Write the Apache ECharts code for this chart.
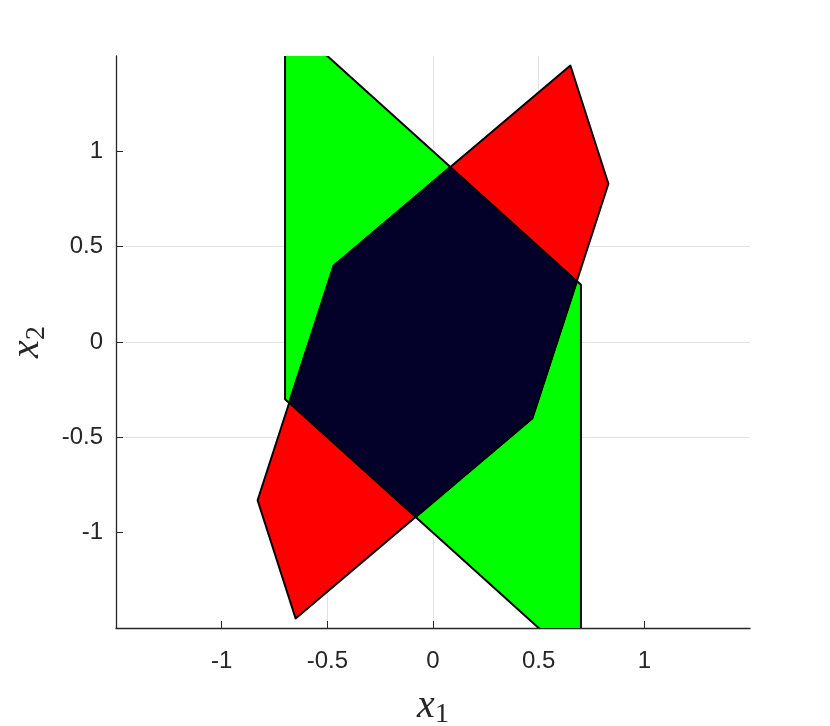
<!DOCTYPE html>
<html><head><meta charset="utf-8">
<script src="https://cdn.jsdelivr.net/npm/echarts@6/dist/echarts.min.js"></script>
<style>html,body{margin:0;padding:0;background:#fff}#c{width:830px;height:726px}</style>
</head><body><div id="c"></div>
<script>
// Tick values
var xTicks = [-1, -0.5, 0, 0.5, 1];
var yTicks = [-1, -0.5, 0, 0.5, 1];
// Green set: |x1| <= 0.7, |x1 + x2| <= 1 (clipped by the axes)
var greenPoly = [[-0.7, -0.3], [-0.7, 1.7], [0.7, 0.3], [0.7, -1.7]];
// Red set
var redPoly = [[-0.65, -1.45], [-0.83, -0.83], [-0.47, 0.4], [0.65, 1.45], [0.83, 0.83], [0.47, -0.4]];
// Intersection (dark)
var darkPoly = [[0.082, 0.918], [0.681, 0.319], [0.47, -0.4], [-0.082, -0.918], [-0.681, -0.319], [-0.47, 0.4]];

function polySeries(poly, fill, z) {
  return {
    type: 'custom',
    coordinateSystem: 'cartesian2d',
    clip: true,
    z: z,
    data: poly,
    renderItem: function (params, api) {
      if (params.dataIndex !== 0) return null;
      var pts = poly.map(function (p) { return api.coord(p); });
      return {
        type: 'polygon',
        shape: { points: pts },
        style: { fill: fill, stroke: '#000', lineWidth: 2, lineJoin: 'round' }
      };
    },
    silent: true
  };
}

var labelStyle = { color: '#262626', fontSize: 24, fontFamily: 'Liberation Sans, Arial, sans-serif' };
var nameRich = {
  i: { fontFamily: 'Liberation Serif, serif', fontStyle: 'italic', fontSize: 40, color: '#262626' },
  s: { fontFamily: 'Liberation Serif, serif', fontSize: 28, color: '#262626', verticalAlign: 'bottom', padding: [18, 0, 0, 0] }
};

var chart = echarts.init(document.getElementById('c'));
chart.setOption({
  animation: false,
  backgroundColor: '#fff',
  grid: { left: 116, right: 80, top: 56, bottom: 98, containLabel: false, outerBoundsMode: 'none' },
  xAxis: {
    type: 'value', min: -1.5, max: 1.5, interval: 0.5,
    name: '{i|x}{s|1}', nameLocation: 'middle', nameGap: 55,
    nameTextStyle: { rich: nameRich },
    axisLine: { show: true, onZero: false, lineStyle: { color: '#262626', width: 1.3 } },
    axisTick: { show: true, inside: true, length: 7, customValues: xTicks, lineStyle: { color: '#262626' } },
    axisLabel: Object.assign({ customValues: xTicks, margin: 21, formatter: function (v) { return String(v); } }, labelStyle),
    splitLine: { show: true, showMinLine: false, showMaxLine: false, lineStyle: { color: '#e3e3e3', width: 1 } }
  },
  yAxis: {
    type: 'value', min: -1.5, max: 1.5, interval: 0.5,
    name: '{i|x}{s|2}', nameLocation: 'middle', nameGap: 64, nameRotate: 90,
    nameTextStyle: { rich: nameRich },
    axisLine: { show: true, onZero: false, lineStyle: { color: '#262626', width: 1.3 } },
    axisTick: { show: true, inside: true, length: 7, customValues: yTicks, lineStyle: { color: '#262626' } },
    axisLabel: Object.assign({ customValues: yTicks, margin: 13, formatter: function (v) { return String(v); } }, labelStyle),
    splitLine: { show: true, showMinLine: false, showMaxLine: false, lineStyle: { color: '#e3e3e3', width: 1 } }
  },
  series: [
    polySeries(greenPoly, '#00ff00', 2),
    polySeries(redPoly, '#ff0000', 3),
    polySeries(darkPoly, '#03002a', 4)
  ]
});
</script></body></html>
